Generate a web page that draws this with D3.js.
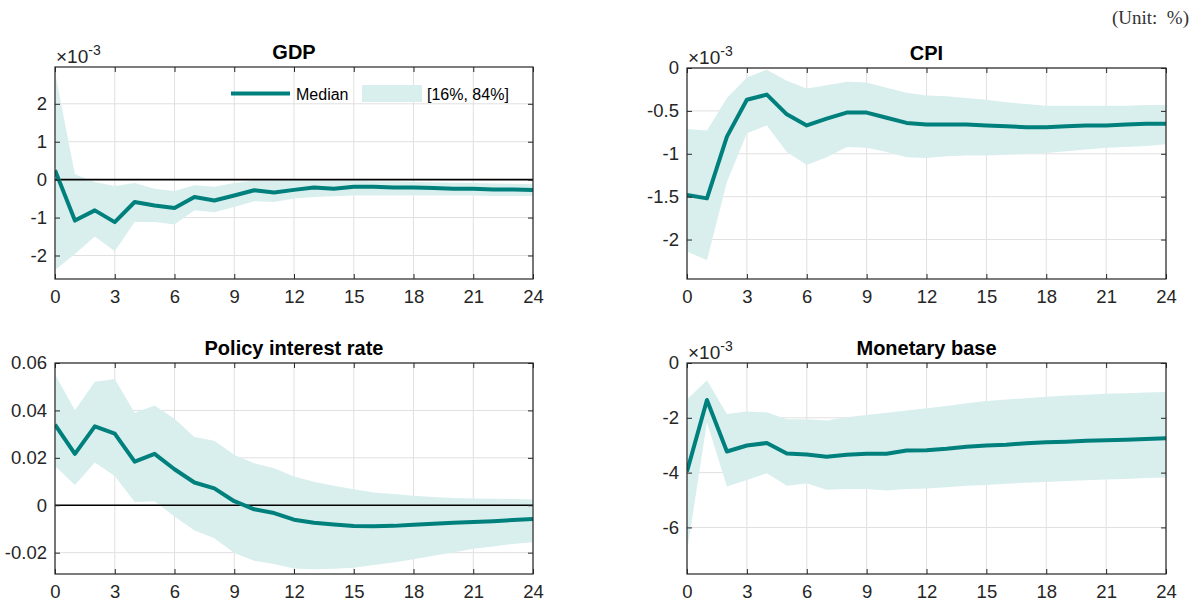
<!DOCTYPE html>
<html>
<head>
<meta charset="utf-8">
<script src="https://cdn.jsdelivr.net/npm/d3@7"></script>
<style>
  html, body { margin: 0; padding: 0; background: #fff; }
  svg { display: block; }
  text { font-family: "Liberation Sans", Arial, Helvetica, sans-serif; }
</style>
</head>
<body>
<svg id="chart" width="1200" height="605"></svg>
<script>
// Impulse responses, horizon 0..24 (months)
const horizon = d3.range(0, 25);
const xTicks = [0, 3, 6, 9, 12, 15, 18, 21, 24];

// GDP (values in units of 1e-3)
const gdpMedian = [0.25, -1.08, -0.81, -1.12, -0.59, -0.68, -0.75, -0.46, -0.55, -0.42, -0.28, -0.34, -0.27, -0.21, -0.24, -0.19, -0.19, -0.21, -0.21, -0.22, -0.24, -0.24, -0.26, -0.26, -0.27];
const gdpUpper  = [2.83, 0.14, -0.06, -0.17, -0.09, -0.24, -0.30, -0.15, -0.19, -0.09, -0.02, -0.02, 0.0, 0.0, -0.01, -0.02, -0.04, -0.04, -0.06, -0.07, -0.08, -0.09, -0.10, -0.11, -0.12];
const gdpLower  = [-2.38, -1.96, -1.50, -1.89, -1.12, -1.12, -1.18, -0.81, -0.86, -0.72, -0.57, -0.59, -0.50, -0.46, -0.44, -0.42, -0.42, -0.42, -0.42, -0.42, -0.42, -0.42, -0.43, -0.43, -0.43];
const gdpTicks  = [-2, -1, 0, 1, 2];

// CPI (values in units of 1e-3)
const cpiMedian = [-1.48, -1.52, -0.80, -0.37, -0.31, -0.54, -0.67, -0.59, -0.52, -0.52, -0.58, -0.64, -0.66, -0.66, -0.66, -0.67, -0.68, -0.69, -0.69, -0.68, -0.67, -0.67, -0.66, -0.65, -0.65];
const cpiUpper  = [-0.71, -0.73, -0.35, -0.11, -0.02, -0.15, -0.24, -0.20, -0.16, -0.17, -0.23, -0.29, -0.32, -0.33, -0.35, -0.37, -0.40, -0.42, -0.44, -0.44, -0.44, -0.44, -0.44, -0.43, -0.43];
const cpiLower  = [-2.14, -2.24, -1.33, -0.76, -0.67, -0.98, -1.13, -1.04, -0.92, -0.93, -0.98, -1.04, -1.05, -1.03, -1.02, -1.02, -1.01, -1.00, -0.99, -0.97, -0.95, -0.93, -0.92, -0.91, -0.89];
const cpiTicks  = [-2, -1.5, -1, -0.5, 0];

// Policy interest rate
const rateMedian = [0.0340, 0.0217, 0.0333, 0.0302, 0.0184, 0.0217, 0.0152, 0.0096, 0.0071, 0.0017, -0.0017, -0.0033, -0.0061, -0.0074, -0.0081, -0.0088, -0.0089, -0.0087, -0.0082, -0.0078, -0.0074, -0.0071, -0.0067, -0.0062, -0.0058];
const rateUpper  = [0.0553, 0.0401, 0.0521, 0.0532, 0.0390, 0.0421, 0.0365, 0.0288, 0.0272, 0.0213, 0.0177, 0.0156, 0.0121, 0.0099, 0.0082, 0.0067, 0.0054, 0.0047, 0.0040, 0.0035, 0.0031, 0.0028, 0.0027, 0.0026, 0.0024];
const rateLower  = [0.0166, 0.0085, 0.0180, 0.0123, 0.0014, 0.0017, -0.0047, -0.0106, -0.0139, -0.0201, -0.0234, -0.0248, -0.0267, -0.0270, -0.0268, -0.0264, -0.0252, -0.0241, -0.0228, -0.0213, -0.0199, -0.0184, -0.0174, -0.0163, -0.0156];
const rateTicks  = [-0.02, 0, 0.02, 0.04, 0.06];

// Monetary base (values in units of 1e-3)
const mbMedian = [-3.96, -1.35, -3.23, -3.01, -2.92, -3.30, -3.34, -3.42, -3.35, -3.31, -3.31, -3.19, -3.18, -3.13, -3.06, -3.01, -2.98, -2.93, -2.89, -2.87, -2.84, -2.82, -2.80, -2.77, -2.75];
const mbUpper  = [-1.33, -0.63, -1.86, -1.77, -1.80, -2.05, -2.05, -2.10, -1.98, -1.90, -1.82, -1.73, -1.65, -1.57, -1.47, -1.39, -1.33, -1.29, -1.23, -1.19, -1.16, -1.12, -1.10, -1.08, -1.06];
const mbLower  = [-6.89, -2.17, -4.51, -4.27, -4.02, -4.48, -4.40, -4.63, -4.60, -4.60, -4.65, -4.60, -4.58, -4.53, -4.48, -4.45, -4.41, -4.37, -4.34, -4.31, -4.28, -4.25, -4.23, -4.20, -4.18];
const mbTicks  = [-6, -4, -2, 0];

const LINE = "#00807c";
const BAND = "#d9efee";
const GRID = "#e0e0e0";
const AXIS = "#262626";

const svg = d3.select("#chart");

svg.append("text")
  .attr("x", 1189).attr("y", 24)
  .attr("text-anchor", "end")
  .style("font-family", "'Liberation Serif', 'DejaVu Serif', serif")
  .style("font-size", "19px")
  .attr("fill", "#333")
  .text("(Unit:\u2002%)");

const panels = [
  { title: "GDP", med: gdpMedian, up: gdpUpper, lo: gdpLower, ticks: gdpTicks, domain: [-2.62, 2.97], exp: true, zero: true, legend: true,
    box: { l: 55, r: 533, t: 67, b: 279 } },
  { title: "CPI", med: cpiMedian, up: cpiUpper, lo: cpiLower, ticks: cpiTicks, domain: [-2.46, 0], exp: true, zero: false,
    box: { l: 687, r: 1166, t: 68, b: 279 } },
  { title: "Policy interest rate", med: rateMedian, up: rateUpper, lo: rateLower, ticks: rateTicks, domain: [-0.029, 0.06], exp: false, zero: true,
    box: { l: 55, r: 533, t: 363, b: 574 } },
  { title: "Monetary base", med: mbMedian, up: mbUpper, lo: mbLower, ticks: mbTicks, domain: [-7.7, 0], exp: true, zero: false,
    box: { l: 687, r: 1166, t: 363, b: 574 } }
];

const fmt = v => {
  if (v === 0) return "0";
  return String(+v.toFixed(4));
};

panels.forEach((p, i) => {
  const { l, r, t, b } = p.box;
  const x = d3.scaleLinear().domain([0, 24]).range([l, r]);
  const y = d3.scaleLinear().domain(p.domain).range([b, t]);
  const g = svg.append("g");
  const clipId = "clip" + i;
  g.append("clipPath").attr("id", clipId)
    .append("rect").attr("x", l).attr("y", t).attr("width", r - l).attr("height", b - t);

  // grid
  g.append("g").selectAll("line").data(xTicks).join("line")
    .attr("x1", d => x(d)).attr("x2", d => x(d)).attr("y1", t).attr("y2", b)
    .attr("stroke", GRID).attr("stroke-width", 1);
  g.append("g").selectAll("line").data(p.ticks).join("line")
    .attr("y1", d => y(d)).attr("y2", d => y(d)).attr("x1", l).attr("x2", r)
    .attr("stroke", GRID).attr("stroke-width", 1);

  const plot = g.append("g").attr("clip-path", `url(#${clipId})`);

  // 16-84% band
  const area = d3.area()
    .x((d, k) => x(horizon[k]))
    .y0((d, k) => y(p.lo[k]))
    .y1((d, k) => y(p.up[k]));
  plot.append("path").datum(p.med).attr("d", area).attr("fill", BAND);

  if (p.zero) {
    plot.append("line").attr("x1", l).attr("x2", r).attr("y1", y(0)).attr("y2", y(0))
      .attr("stroke", "#000").attr("stroke-width", 1.6);
  }

  const line = d3.line().x((d, k) => x(horizon[k])).y(d => y(d));
  plot.append("path").datum(p.med).attr("d", line)
    .attr("fill", "none").attr("stroke", LINE).attr("stroke-width", 4)
    .attr("stroke-linejoin", "round");

  // axes (box with inward ticks)
  const xb = g.append("g").attr("transform", `translate(0,${b})`)
    .call(d3.axisBottom(x).tickValues(xTicks).tickSize(-5).tickPadding(11).tickSizeOuter(0));
  const xt = g.append("g").attr("transform", `translate(0,${t})`)
    .call(d3.axisTop(x).tickValues(xTicks).tickSize(-5).tickFormat("").tickSizeOuter(0));
  const yl = g.append("g").attr("transform", `translate(${l},0)`)
    .call(d3.axisLeft(y).tickValues(p.ticks).tickSize(-5).tickPadding(8).tickFormat(fmt).tickSizeOuter(0));
  const yr = g.append("g").attr("transform", `translate(${r},0)`)
    .call(d3.axisRight(y).tickValues(p.ticks).tickSize(-5).tickFormat("").tickSizeOuter(0));
  [xb, xt, yl, yr].forEach(a => {
    a.select(".domain").remove();
    a.selectAll("line").attr("stroke", AXIS);
    a.selectAll("text").attr("fill", "#262626").style("font-size", "18.5px")
      .style("font-family", "'Liberation Sans', Arial, sans-serif");
  });
  g.append("rect").attr("x", l).attr("y", t).attr("width", r - l).attr("height", b - t)
    .attr("fill", "none").attr("stroke", AXIS).attr("stroke-width", 1.2);

  // title
  g.append("text").attr("x", (l + r) / 2).attr("y", t - 8)
    .attr("text-anchor", "middle")
    .style("font-size", "20px").style("font-weight", "bold")
    .attr("fill", "#000").text(p.title);

  // exponent label
  if (p.exp) {
    const e = g.append("text").attr("x", l + 1).attr("y", t - 4)
      .style("font-size", "19px").attr("fill", "#262626");
    e.append("tspan").text("\u00d710");
    e.append("tspan").attr("dy", -8).style("font-size", "14px").text("-3");
  }

  if (p.legend) {
    const lg = g.append("g");
    lg.append("line").attr("x1", 231).attr("x2", 290).attr("y1", 93.5).attr("y2", 93.5)
      .attr("stroke", LINE).attr("stroke-width", 4);
    lg.append("text").attr("x", 296).attr("y", 100).style("font-size", "16px")
      .attr("fill", "#000").text("Median");
    lg.append("rect").attr("x", 362).attr("y", 85).attr("width", 60).attr("height", 17)
      .attr("fill", BAND);
    lg.append("text").attr("x", 427).attr("y", 100).style("font-size", "16px")
      .attr("fill", "#000").text("[16%, 84%]");
  }
});
</script>
</body>
</html>
